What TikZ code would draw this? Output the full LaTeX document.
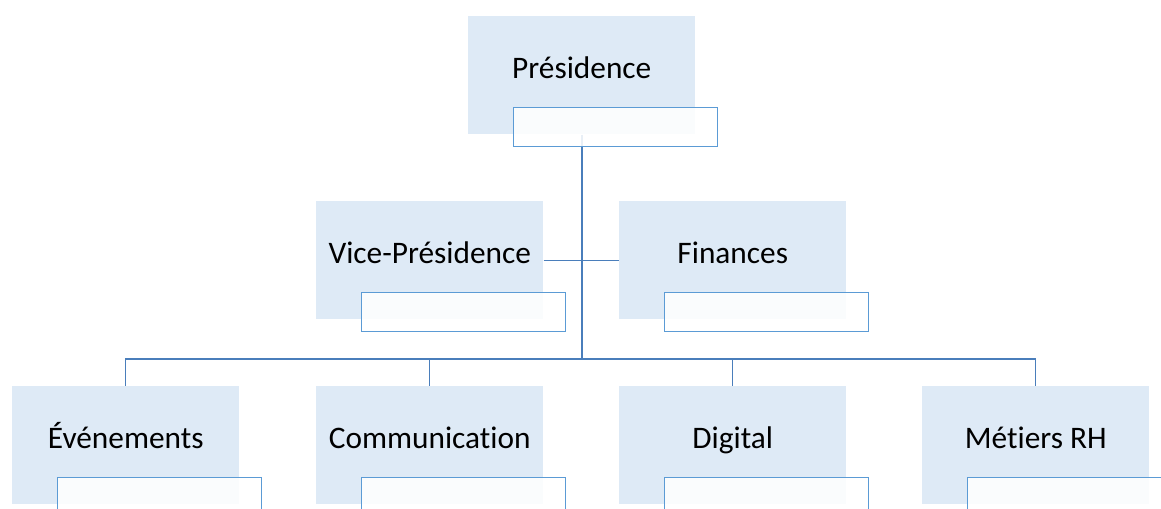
\documentclass[tikz,border=0pt]{standalone}
\usepackage{fontspec}
\setmainfont[Ligatures={NoCommon}]{Carlito}
\definecolor{boxfill}{HTML}{DEEAF6}
\definecolor{subline}{HTML}{5B9BD5}
\definecolor{conn}{HTML}{4A7EBB}
\tikzset{
  bigbox/.style={draw=none, fill=boxfill, minimum width=227*0.75pt, minimum height=118*0.75pt, inner sep=0pt, anchor=north west},
  subbox/.style={draw=subline, line width=1.1pt, fill=white, fill opacity=0.88, minimum width=204*0.75pt, minimum height=39*0.75pt, inner sep=0pt, anchor=north west},
  lbl/.style={font=\fontsize{23.5}{28}\selectfont, text=black, inner sep=0pt, anchor=base},
  connector/.style={draw=conn, line width=0.9pt},
  mainconn/.style={draw=conn, line width=1.4pt}
}
\newcommand{\orgunit}[4]{%
  \node[bigbox] (#1) at (#2,#3) {};
  \node[lbl] (#1-t) at ([yshift=-63*0.75pt]#1.north) {#4};
}
\newcommand{\orgsub}[1]{%
  \node[subbox] (#1-s) at ([xshift=45*0.75pt, yshift=-91*0.75pt]#1.north west) {};
}
\begin{document}
\begin{tikzpicture}[x=0.75pt, y=-0.75pt]
\useasboundingbox (0,0) rectangle (1161,509);
\clip (0,0) rectangle (1161,509);
% big boxes and labels
\orgunit{pres}{468}{16}{Présidence}
\orgunit{vp}{316}{201}{Vice-Présidence}
\orgunit{fin}{619}{201}{Finances}
\orgunit{ev}{12}{386}{Événements}
\orgunit{com}{316}{386}{Communication}
\orgunit{dig}{619}{386}{Digital}
\orgunit{mrh}{922}{386}{Métiers RH}
% connectors
\coordinate (bus) at (581,359);
\draw[mainconn] (pres.south) -- (pres.south |- bus);
\draw[connector] (vp.east) -- (fin.west);
\draw[connector] (ev.north) -- (ev.north |- bus) -- (mrh.north |- bus) -- (mrh.north);
\draw[connector] (com.north) -- (com.north |- bus);
\draw[connector] (dig.north) -- (dig.north |- bus);
% sub boxes
\orgsub{pres}
\orgsub{vp}
\orgsub{fin}
\orgsub{ev}
\orgsub{com}
\orgsub{dig}
\orgsub{mrh}
\end{tikzpicture}
\end{document}
